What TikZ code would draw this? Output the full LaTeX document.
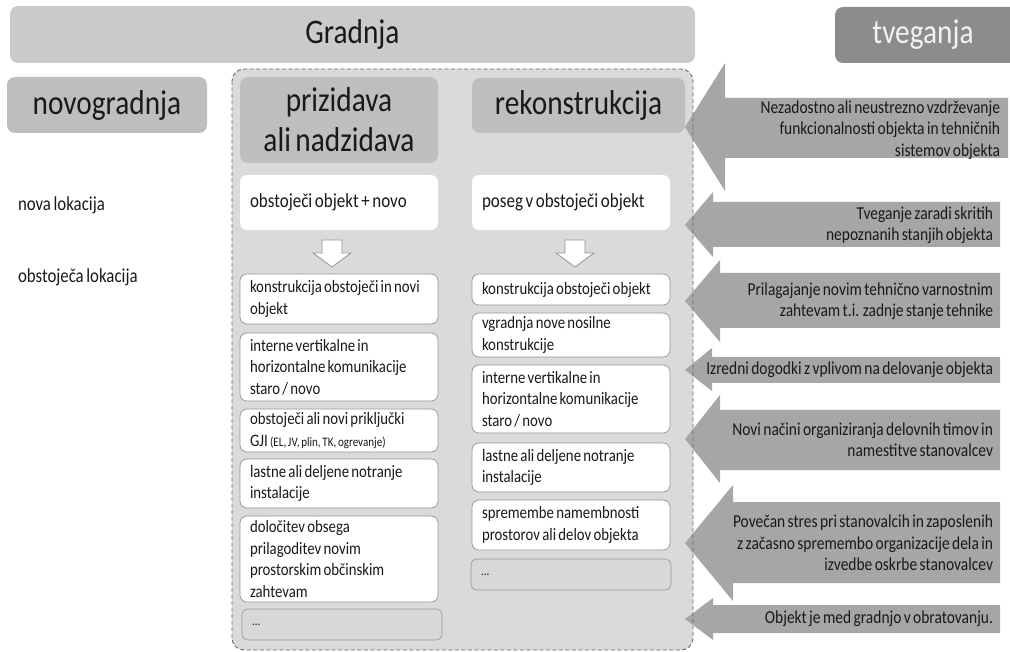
\documentclass[tikz,border=0pt]{standalone}
\usepackage{fontspec}
\setmainfont{Carlito}[FakeStretch=0.85, WordSpace=0.68]
\usetikzlibrary{calc}
\definecolor{barC}{RGB}{202,202,202}
\definecolor{tvegC}{RGB}{140,140,140}
\definecolor{headC}{RGB}{190,190,190}
\definecolor{contC}{RGB}{218,218,218}
\definecolor{arrC}{RGB}{166,166,166}
\definecolor{edgeC}{RGB}{150,150,150}
\definecolor{dashC}{RGB}{105,105,105}
\definecolor{dotC}{RGB}{216,216,216}
\definecolor{txtC}{RGB}{25,25,25}
\newcommand{\bx}[7]{\node[#6, minimum width={#4-#2}, minimum height={#5-#3}] (#1) at ({(#2+#4)/2},{(#3+#5)/2}) {#7};}
\newcommand{\riskarrow}[8]{\fill[arrC] (#1,#2) -- (#3,#4) -- (#3,#6) -- (#8,#6) -- (#8,#7) -- (#3,#7) -- (#3,#5) -- cycle;}
\newcommand{\dnarrow}[2]{\draw[edgeC, fill=white, line width=0.8pt] (#1-10,240) -- (#1+10,240) -- (#1+10,#2) -- (#1+19,#2) -- (#1,267) -- (#1-19,#2) -- (#1-10,#2) -- cycle;}
\newcommand{\natspace}{\spaceskip=\fontdimen2\font\relax\xspaceskip=\fontdimen2\font\relax}
\begin{document}
\begin{tikzpicture}[x=1pt,y=-1pt,
  every node/.style={inner sep=0pt, outer sep=0pt, text=txtC},
  bigfont/.style={font=\fontsize{34.5}{40}\selectfont},
  bar/.style={fill=barC, rounded corners=8pt, bigfont},
  head/.style={fill=headC, rounded corners=8pt, align=center, bigfont},
  topbox/.style={fill=white, rounded corners=7pt, align=left, text width=178pt, inner xsep=10pt, font=\fontsize{20}{24}\selectfont, execute at begin node=\natspace},
  wbox/.style={draw=edgeC, line width=0.7pt, fill=white, rounded corners=7pt, align=left, text width=178pt, inner xsep=10pt, font=\fontsize{17.4}{21.5}\selectfont, execute at begin node=\natspace},
  dotbox/.style={draw=edgeC, line width=0.6pt, fill=dotC, rounded corners=6pt, align=left, text width=180pt, inner xsep=10pt, font=\fontsize{13}{15}\selectfont},
  label/.style={anchor=west, font=\fontsize{19.8}{24}\selectfont},
  risktext/.style={anchor=east, align=right, font=\fontsize{18.2}{21.3}\selectfont}
]
\useasboundingbox (0,0) rectangle (1010,652);
% top bars
\bx{gradnja}{10}{6}{695}{63}{bar}{Gradnja}
\fill[tvegC, rounded corners=8pt] (835,7) rectangle (1025,63);
\node[bigfont, text=white!95!black] (tveganja) at (923,35) {tveganja};
\bx{novo}{7}{77}{207}{133}{head}{novogradnja}
% left labels
\node[label] (nlok) at (18,205) {nova lokacija};
\node[label] (olok) at (18,277) {obstoječa lokacija};
% container
\fill[contC, rounded corners=12pt] (232,69) rectangle (693,650);
% risk arrows
\riskarrow{685}{127}{725}{63}{191}{98}{158}{1008}
\riskarrow{685}{225}{713}{192}{257}{202}{247}{1000}
\riskarrow{685}{301}{720}{260}{342}{273}{328}{1000}
\riskarrow{685}{370}{712}{348}{391}{357}{383}{1000}
\riskarrow{685}{439}{720}{395}{483}{410}{470}{1000}
\riskarrow{685}{543}{733}{485}{601}{502}{583}{1000}
\riskarrow{685}{619}{713}{598}{640}{605}{633}{1000}
\draw[dashC, line width=0.9pt, dash pattern=on 4pt off 2.5pt, rounded corners=12pt] (232,69) rectangle (693,650);
\node[risktext] (r1) at (1000,130) {Nezadostno ali neustrezno vzdrževanje\\funkcionalnosti objekta in tehničnih\\sistemov objekta};
\node[risktext] (r2) at (993,225) {Tveganje zaradi skritih\\nepoznanih stanjih objekta};
\node[risktext] (r3) at (993,301) {Prilagajanje novim tehnično varnostnim\\zahtevam t.i. zadnje stanje tehnike};
\node[risktext] (r4) at (993,370) {Izredni dogodki z vplivom na delovanje objekta};
\node[risktext] (r5) at (993,440) {Novi načini organiziranja delovnih timov in\\namestitve stanovalcev};
\node[risktext] (r6) at (993,543) {Povečan stres pri stanovalcih in zaposlenih\\z začasno spremembo organizacije dela in\\izvedbe oskrbe stanovalcev};
\node[risktext] (r7) at (993,619) {Objekt je med gradnjo v obratovanju.};
% headings
\bx{priz}{240}{77}{438}{163}{head}{prizidava\\ali nadzidava}
\bx{rek}{472}{78}{685}{133}{head}{rekonstrukcija}
% top white boxes
\bx{pt}{240}{175}{438}{230}{topbox}{obstoječi objekt + novo}
\bx{rt}{472}{175}{670}{230}{topbox}{poseg v obstoječi objekt}
% down arrows
\dnarrow{332}{253}
\dnarrow{575}{253}
% left column
\bx{l1}{240}{274}{438}{324}{wbox}{konstrukcija obstoječi in novi\\objekt}
\bx{l2}{240}{333}{438}{401}{wbox}{interne vertikalne in\\horizontalne komunikacije\\staro / novo}
\bx{l3}{240}{409}{438}{452}{wbox}{obstoječi ali novi priključki\\GJI {\fontsize{13}{15}\selectfont\natspace (EL, JV, plin, TK, ogrevanje)}}
\bx{l4}{240}{459}{438}{508}{wbox}{lastne ali deljene notranje\\instalacije}
\bx{l5}{240}{516}{438}{602}{wbox}{določitev obsega\\prilagoditev novim\\prostorskim občinskim\\zahtevam}
\bx{l6}{242}{609}{442}{640}{dotbox}{...}
% right column
\bx{k1}{472}{274}{670}{305}{wbox}{konstrukcija obstoječi objekt}
\bx{k2}{472}{313}{670}{357}{wbox}{vgradnja nove nosilne\\konstrukcije}
\bx{k3}{472}{365}{670}{433}{wbox}{interne vertikalne in\\horizontalne komunikacije\\staro / novo}
\bx{k4}{472}{443}{670}{492}{wbox}{lastne ali deljene notranje\\instalacije}
\bx{k5}{472}{500}{670}{550}{wbox}{spremembe namembnosti\\prostorov ali delov objekta}
\bx{k6}{472}{559}{670}{590}{dotbox}{...}
\end{tikzpicture}
\end{document}
